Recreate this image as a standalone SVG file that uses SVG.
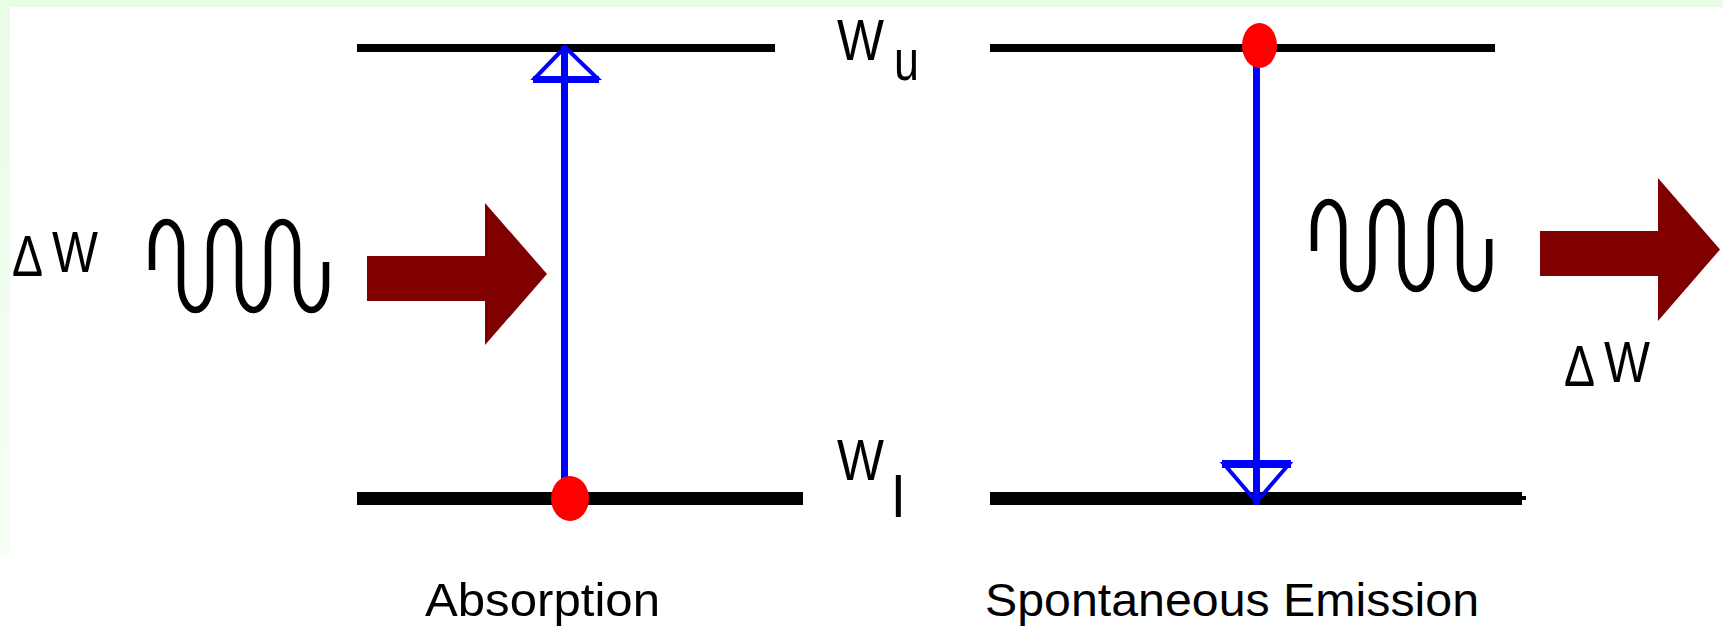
<svg xmlns="http://www.w3.org/2000/svg" width="1723" height="627" viewBox="0 0 1723 627">
  <defs>
    <linearGradient id="leftBand" x1="0" y1="0" x2="0" y2="1">
      <stop offset="0" stop-color="#E8FCE6"/>
      <stop offset="1" stop-color="#F7FFF6"/>
    </linearGradient>
    <style>
      .level { fill: #000000; }
      .dot { fill: #FF0000; }
      .trans { fill: #0000FF; }
      .head { fill: none; stroke: #0000FF; stroke-width: 4; stroke-linejoin: miter; }
      .wave { fill: none; stroke: #000000; stroke-width: 6.5; stroke-linejoin: round; }
      .bigArrow { fill: #800000; }
      .lbl { font-family: "Liberation Sans", Arial, sans-serif; fill: #000000; }
      .sym { font-size: 57px; }
      .cap { font-size: 47px; }
    </style>
  </defs>

  <g id="background">
    <rect x="0" y="0" width="1723" height="627" fill="#FFFFFF"/>
    <rect x="0" y="0" width="1723" height="7" fill="#E8FCE6"/>
    <rect x="0" y="0" width="10" height="556" fill="url(#leftBand)"/>
  </g>

  <g id="level-upper-left"><rect class="level" x="357" y="44" width="418" height="8"/></g>
  <g id="level-upper-right"><rect class="level" x="990" y="44" width="505" height="8"/></g>
  <g id="level-lower-left"><rect class="level" x="357" y="492" width="446" height="13"/></g>
  <g id="level-lower-right">
    <rect class="level" x="990" y="492" width="532" height="13"/>
    <rect class="level" x="1522" y="496" width="4" height="4"/>
  </g>

  <g id="connectors">
    <rect class="trans" x="561" y="46" width="7" height="440"/>
    <polygon class="head" points="565,47 535,78 597,78"/>
    <rect class="trans" x="533" y="76" width="66" height="7"/>
    <rect class="trans" x="1253" y="60" width="7" height="445"/>
    <polygon class="head" points="1224,464 1289,464 1256.5,502"/>
    <rect class="trans" x="1222" y="460" width="69" height="8"/>
  </g>

  <g id="electron-lower-left"><ellipse class="dot" cx="570" cy="498.5" rx="19" ry="22.5"/></g>
  <g id="electron-upper-right"><ellipse class="dot" cx="1259.5" cy="45.5" rx="17.5" ry="22.5"/></g>

  <g id="photon-in">
    <path class="wave" d="M152,270 L152,247 A14.5,25 0 0 1 181,247 L181,285 A14.5,25 0 0 0 210,285 L210,247 A14.5,25 0 0 1 239,247 L239,285 A14.5,25 0 0 0 268,285 L268,247 A14.5,25 0 0 1 297,247 L297,285 A14.5,25 0 0 0 326,285 L326,262"/>
    <polygon class="bigArrow" points="367,256 485,256 485,203 547,274 485,345 485,301 367,301"/>
  </g>

  <g id="photon-out">
    <path class="wave" d="M1314,251 L1314,227 A14.6,25 0 0 1 1343.2,227 L1343.2,264 A14.6,25 0 0 0 1372.4,264 L1372.4,227 A14.6,25 0 0 1 1401.6,227 L1401.6,264 A14.6,25 0 0 0 1430.8,264 L1430.8,227 A14.6,25 0 0 1 1460,227 L1460,264 A14.6,25 0 0 0 1489.2,264 L1489.2,239"/>
    <polygon class="bigArrow" points="1540,231 1658,231 1658,178 1720,249.5 1658,321 1658,276 1540,276"/>
  </g>

  <g id="label-dw-left">
    <text class="lbl sym" x="12" y="276" textLength="31" lengthAdjust="spacingAndGlyphs">Δ</text>
    <text class="lbl sym" x="52" y="272" textLength="46" lengthAdjust="spacingAndGlyphs">W</text>
  </g>
  <g id="label-dw-right">
    <text class="lbl sym" x="1564" y="386" textLength="31" lengthAdjust="spacingAndGlyphs">Δ</text>
    <text class="lbl sym" x="1604" y="382" textLength="46" lengthAdjust="spacingAndGlyphs">W</text>
  </g>
  <g id="label-wu">
    <text class="lbl sym" x="837" y="60" textLength="47" lengthAdjust="spacingAndGlyphs">W</text>
    <text class="lbl sym" x="894" y="80" textLength="25" lengthAdjust="spacingAndGlyphs">u</text>
  </g>
  <g id="label-wl">
    <text class="lbl sym" x="837" y="480" textLength="47" lengthAdjust="spacingAndGlyphs">W</text>
    <text class="lbl sym" x="892" y="517">l</text>
  </g>

  <g id="caption-absorption">
    <text class="lbl cap" x="425" y="616" textLength="235" lengthAdjust="spacingAndGlyphs">Absorption</text>
  </g>
  <g id="caption-emission">
    <text class="lbl cap" x="985" y="616" textLength="494" lengthAdjust="spacingAndGlyphs">Spontaneous Emission</text>
  </g>
</svg>
